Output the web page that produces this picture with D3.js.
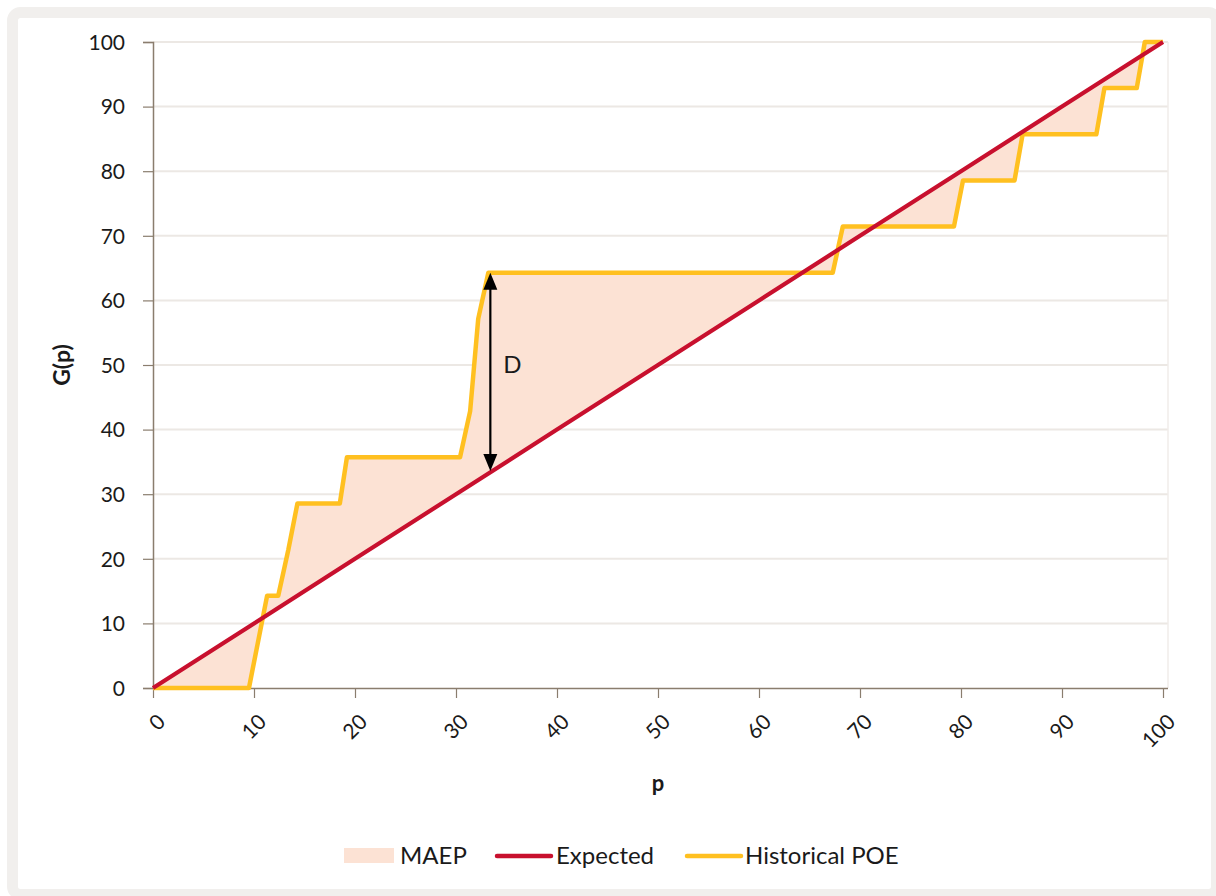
<!DOCTYPE html>
<html>
<head>
<meta charset="utf-8">
<script src="https://cdn.jsdelivr.net/npm/d3@7"></script>
<style>
  html, body { margin: 0; padding: 0; background: #ffffff; }
  svg { display: block; }
  text { font-family: Lato, "Open Sans", sans-serif; fill: #1a1a1a; }
</style>
</head>
<body>
<script>
// ---- data ----
const xTicks = [0, 10, 20, 30, 40, 50, 60, 70, 80, 90, 100];
const yTicks = [0, 10, 20, 30, 40, 50, 60, 70, 80, 90, 100];

const expectedP = [0, 10, 20, 30, 40, 50, 60, 70, 80, 90, 100];
const expectedG = [0, 10, 20, 30, 40, 50, 60, 70, 80, 90, 100];

const historicalP = [0, 9.5, 11.3, 12.4, 13.4, 14.3, 18.5, 19.2, 30.4, 31.4, 32.2, 33.2, 67.3, 68.3, 79.3, 80.2, 85.3, 86.1, 93.4, 94.2, 97.4, 98.2, 100];
const historicalG = [0, 0, 14.29, 14.29, 21.4, 28.57, 28.57, 35.71, 35.71, 42.86, 57.14, 64.29, 64.29, 71.43, 71.43, 78.57, 78.57, 85.71, 85.71, 92.86, 92.86, 100, 100];

const arrowP = 33.4;
const arrowFrom = 33.6;
const arrowTo = 64.29;

const legendLabels = ["MAEP", "Expected", "Historical POE"];
const colors = { maep: "#fce2d4", expected: "#c8102e", historical: "#ffc020" };

// ---- layout ----
const W = 1216, H = 896;
const svg = d3.select("body").append("svg").attr("width", W).attr("height", H);

// outer frame
svg.append("rect")
  .attr("x", 12.5).attr("y", 12.5).attr("width", 1204).attr("height", 882)
  .attr("rx", 8).attr("fill", "#ffffff")
  .attr("stroke", "#f1efed").attr("stroke-width", 11);

const x = d3.scaleLinear().domain([0, 100]).range([153, 1163]);
const y = d3.scaleLinear().domain([0, 100]).range([688, 42]);
const plotRight = 1168;

// gridlines
svg.append("g").selectAll("line").data(yTicks.filter(d => d > 0)).join("line")
  .attr("x1", x(0)).attr("x2", plotRight)
  .attr("y1", d => y(d)).attr("y2", d => y(d))
  .attr("stroke", "#ece8e4").attr("stroke-width", 2);
svg.append("line")
  .attr("x1", plotRight).attr("x2", plotRight).attr("y1", y(100)).attr("y2", y(0))
  .attr("stroke", "#f0edea").attr("stroke-width", 1.5);

const hist = historicalP.map((p, i) => [p, historicalG[i]]);
const expd = expectedP.map((p, i) => [p, expectedG[i]]);

// MAEP area between the curves
const poly = hist.concat(expd.slice().reverse());
svg.append("path")
  .attr("d", d3.line().x(d => x(d[0])).y(d => y(d[1]))(poly) + "Z")
  .attr("fill", colors.maep).attr("stroke", "none");

// axes
const axisColor = "#8a7d6e";
const yAxis = svg.append("g").attr("transform", `translate(${x(0)},0)`)
  .call(d3.axisLeft(y).tickValues(yTicks).tickSize(10).tickPadding(18));
const xAxis = svg.append("g").attr("transform", `translate(0,${y(0)})`)
  .call(d3.axisBottom(x).tickValues(xTicks).tickSize(10).tickPadding(6));
[yAxis, xAxis].forEach(g => {
  g.select(".domain").attr("stroke", axisColor).attr("stroke-width", 1.5);
  g.selectAll(".tick line").attr("stroke", axisColor).attr("stroke-width", 1.2);
  g.selectAll("text").style("font-family", "Lato, 'Open Sans', sans-serif")
    .style("font-size", "21px").attr("fill", "#1a1a1a");
});
xAxis.select(".domain").attr("d", `M${x(0)},0.5H${plotRight}`);
xAxis.selectAll(".tick text")
  .attr("text-anchor", "end")
  .attr("x", 0).attr("y", 0)
  .attr("transform", "translate(8,30) rotate(-45)")
  .attr("dy", "0.35em").attr("dx", "0");
yAxis.selectAll(".tick text").attr("dy", "0.35em");

// lines
const lineGen = d3.line().x(d => x(d[0])).y(d => y(d[1]));
svg.append("path").attr("d", lineGen(hist))
  .attr("fill", "none").attr("stroke", colors.historical)
  .attr("stroke-width", 4.5).attr("stroke-linejoin", "round");
svg.append("path").attr("d", lineGen(expd))
  .attr("fill", "none").attr("stroke", colors.expected)
  .attr("stroke-width", 4.2).attr("stroke-linejoin", "round");

// D arrow
const ax = x(arrowP);
const yTop = y(arrowTo), yBot = y(arrowFrom);
svg.append("line").attr("x1", ax).attr("x2", ax).attr("y1", yTop + 14).attr("y2", yBot - 14)
  .attr("stroke", "#000").attr("stroke-width", 2.2);
svg.append("path").attr("d", `M${ax},${yTop} L${ax - 7},${yTop + 17} L${ax + 7},${yTop + 17}Z`).attr("fill", "#000");
svg.append("path").attr("d", `M${ax},${yBot} L${ax - 7},${yBot - 17} L${ax + 7},${yBot - 17}Z`).attr("fill", "#000");
svg.append("text").attr("x", ax + 13).attr("y", y(50)).attr("dy", "0.35em")
  .style("font-size", "24px").text("D");

// axis titles
svg.append("text").attr("transform", `translate(62,${y(50)}) rotate(-90)`)
  .attr("text-anchor", "middle").attr("dy", "0.35em")
  .style("font-size", "23px").style("font-weight", "bold").text("G(p)");
svg.append("text").attr("x", x(50)).attr("y", 783).attr("text-anchor", "middle")
  .attr("dy", "0.35em").style("font-size", "22px").style("font-weight", "bold").text("p");

// legend
const ly = 856;
const lg = svg.append("g");
lg.append("rect").attr("x", 344).attr("y", ly - 8).attr("width", 50).attr("height", 15).attr("fill", colors.maep);
lg.append("text").attr("x", 400).attr("y", ly).attr("dy", "0.35em").style("font-size", "24px").text(legendLabels[0]);
lg.append("line").attr("x1", 497).attr("x2", 551).attr("y1", ly).attr("y2", ly)
  .attr("stroke", colors.expected).attr("stroke-width", 4.5).attr("stroke-linecap", "round");
lg.append("text").attr("x", 556).attr("y", ly).attr("dy", "0.35em").style("font-size", "24px").text(legendLabels[1]);
lg.append("line").attr("x1", 687).attr("x2", 741).attr("y1", ly).attr("y2", ly)
  .attr("stroke", colors.historical).attr("stroke-width", 4.5).attr("stroke-linecap", "round");
lg.append("text").attr("x", 745).attr("y", ly).attr("dy", "0.35em").style("font-size", "24px").text(legendLabels[2]);
</script>
</body>
</html>
